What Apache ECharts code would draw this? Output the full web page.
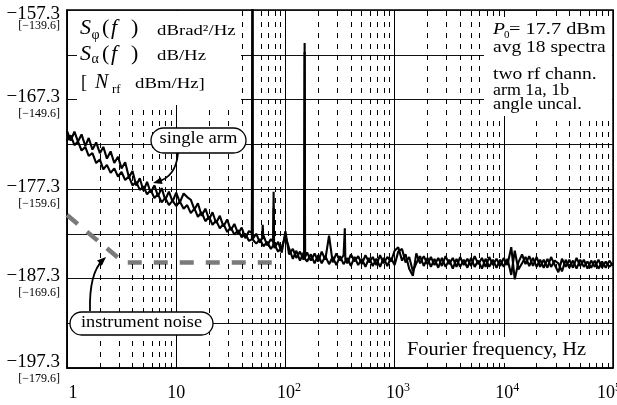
<!DOCTYPE html>
<html>
<head>
<meta charset="utf-8">
<script src="https://cdn.jsdelivr.net/npm/echarts@6/dist/echarts.min.js"></script>
<style>html,body{margin:0;padding:0;background:#fff}#c{width:617px;height:405px}</style>
</head>
<body>
<div id="c"></div>
<script>
// ---------- data ----------
const freqHz = [
  1, 1.08, 1.17, 1.26, 1.36, 1.47, 1.58, 1.71, 1.85, 2, 2.15, 2.32, 2.51, 2.71, 2.93, 3.16, 3.41, 3.69, 3.98, 4.3, 4.64, 5.01, 5.41, 5.84, 6.31, 6.81, 7.36, 7.94, 8.58, 9.26,
  10, 10.8, 11.7, 12.6, 13.6, 14.7, 15.8, 17.1, 18.5, 20, 21.5, 23.2, 25.1, 27.1, 29.3, 31.6, 34.1, 36.9, 39.8, 43, 46.4, 50.1, 54.1, 58.4, 63.1, 68.1, 73.6, 79.4, 85.8, 92.6,
  100, 108, 117, 126, 136, 147, 158, 171, 185, 200, 215, 232, 251, 271, 293, 316, 341, 369, 398, 430, 464, 501, 541, 584, 631, 681, 736, 794, 858, 926,
  1000, 1080, 1170, 1260, 1360, 1470, 1580, 1710, 1850, 2000, 2150, 2320, 2510, 2710, 2930, 3160, 3410, 3690, 3980, 4300, 4640, 5010, 5410, 5840, 6310, 6810, 7360, 7940, 8580, 9260,
  10000, 10800, 11700, 12600, 13600, 14700, 15800, 17100, 18500, 20000, 21500, 23200, 25100, 27100, 29300, 31600, 34100, 36900, 39800, 43000, 46400, 50100, 54100, 58400, 63100, 68100, 73600, 79400, 85800, 92600, 100000
];
// single arm, spectrum a (dB)
const armA = [
  -170.8, -171.9, -170.9, -172.0, -171.2, -172.5, -171.6, -172.9, -172.1, -173.3, -172.6, -173.9, -173.1, -174.4, -173.7, -175.0, -174.3, -176.0, -175.3, -176.9, -176.1, -177.5, -176.5, -177.7, -176.9, -178.1, -177.2, -178.5, -177.6, -178.7,
  -177.7, -178.8, -177.8, -178.2, -178.5, -179.6, -178.9, -180.3, -179.5, -180.7, -179.9, -181.1, -180.3, -181.5, -180.7, -181.9, -181.2, -182.3, -181.6, -182.8, -182.0, -182.9, -182.3, -183.3, -182.5, -183.6, -182.9, -183.9, -183.2, -184.4,
  -182.0, -184.6, -184.0, -185.0, -184.3, -185.2, -184.4, -185.3, -184.5, -185.4, -184.3, -185.2, -182.5, -185.5, -184.5, -185.3, -184.7, -185.6, -184.6, -185.4, -184.8, -185.7, -184.7, -185.5, -184.9, -185.8, -184.7, -185.6, -184.9, -185.4,
  -184.2, -183.8, -185.3, -184.6, -186.2, -187.0, -184.5, -185.6, -184.8, -185.7, -184.9, -185.8, -185.0, -185.9, -184.8, -185.7, -185.0, -186.0, -184.9, -185.8, -185.1, -185.9, -184.8, -185.7, -185.0, -186.0, -184.9, -185.8, -185.1, -185.9,
  -185.0, -185.8, -183.8, -187.4, -185.5, -184.6, -185.7, -184.8, -185.9, -184.9, -186.0, -185.2, -186.1, -184.9, -185.8, -186.6, -185.1, -186.0, -185.2, -186.1, -185.0, -185.9, -185.2, -186.2, -185.3, -186.0, -185.2, -186.1, -185.4, -186.0, -185.6
];
// single arm, spectrum b (dB)
const armB = [
  -171.9, -171.3, -172.4, -172.0, -173.0, -172.6, -173.6, -173.3, -174.4, -174.0, -175.1, -174.6, -175.5, -175.0, -175.9, -175.4, -176.3, -175.9, -176.9, -176.5, -177.4, -177.0, -177.9, -177.4, -178.3, -177.9, -178.8, -178.3, -179.1, -178.6,
  -179.2, -178.7, -179.5, -179.1, -180.0, -179.5, -180.4, -179.9, -180.9, -180.4, -181.3, -180.8, -181.7, -181.2, -182.1, -181.6, -182.4, -181.9, -182.7, -182.3, -183.1, -182.6, -183.4, -182.9, -183.7, -183.2, -184.0, -183.5, -184.3, -183.8,
  -182.6, -183.9, -185.1, -184.2, -185.3, -184.4, -185.4, -184.6, -185.6, -184.7, -185.6, -184.8, -185.7, -184.9, -185.8, -184.8, -185.7, -185.0, -185.9, -184.9, -185.8, -185.1, -186.0, -185.0, -185.9, -185.1, -186.0, -185.0, -185.9, -185.0,
  -185.8, -184.3, -184.0, -185.5, -184.9, -186.5, -185.6, -184.8, -185.9, -185.0, -186.0, -185.1, -186.1, -185.0, -186.0, -185.2, -186.2, -185.1, -186.0, -185.2, -186.1, -185.0, -186.0, -185.3, -186.2, -185.1, -186.0, -185.2, -186.1, -185.2,
  -186.0, -185.1, -186.9, -184.2, -186.3, -185.6, -184.9, -185.9, -185.0, -186.0, -185.2, -186.1, -185.1, -186.0, -185.3, -185.6, -186.5, -185.2, -186.1, -185.3, -186.2, -185.2, -186.0, -185.4, -186.1, -185.3, -186.2, -185.4, -186.1, -185.3, -185.9
];
// narrow spectral lines (Hz, dB)
const spikesA = [[49.3, -182.2], [50, -150], [50.7, -182.7], [61.2, -182.8], [62, -181.3], [62.8, -182.9],
  [77.2, -183.2], [78, -177.6], [78.8, -183.5], [148.5, -184.6], [150, -161.0], [151.5, -184.9],
  [346, -184.9], [350, -181.7], [354, -185.2]];
const spikesB = [[49.4, -182.9], [50, -152], [50.6, -183.0], [77.4, -183.6], [78, -179.4], [78.6, -183.8],
  [148.7, -185.0], [150, -162.0], [151.3, -185.1]];
// instrument noise floor
const noiseHz = [1, 3.3, 90];
const noiseDb = [-180.2, -185.5, -185.5];
// minor (dashed) frequency grid
const minorGridHz = [2, 3, 4, 5, 6, 7, 8, 9, 20, 30, 40, 50, 60, 70, 80, 90, 200, 300, 400, 500, 600, 700, 800, 900,
  2000, 3000, 4000, 5000, 6000, 7000, 8000, 9000, 20000, 30000, 40000, 50000, 60000, 70000, 80000, 90000];
// tick labels
const yTickMain = ['\u2212197.3', '\u2212187.3', '\u2212177.3', '\u2212167.3', '\u2212157.3'];
const yTickBracket = ['[\u2212179.6]', '[\u2212169.6]', '[\u2212159.6]', '[\u2212149.6]', '[\u2212139.6]'];
const xTickBase = ['1', '10', '10', '10', '10', '10'];
const xTickExp = ['', '', '2', '3', '4', '5'];

// ---------- chart ----------
const SERIF = '"Liberation Serif","Times New Roman","DejaVu Serif",serif';
const chart = echarts.init(document.getElementById('c'), null, { renderer: 'canvas', width: 617, height: 405 });

function merge(fs, vs, sp) {
  const p = fs.map((f, i) => [f, vs[i]]).concat(sp);
  p.sort((a, b) => a[0] - b[0]);
  return p;
}
function txt(s, x, base, size, opt) {
  opt = opt || {};
  const al = opt.align || 'left';
  return {
    type: 'text', x: x, y: base - 0.32 * size, z: 30, scaleX: opt.sx || 1, silent: true,
    style: {
      text: s, font: (opt.italic ? 'italic ' : '') + size + 'px ' + SERIF, fill: '#000',
      textAlign: al, textVerticalAlign: 'middle', align: al, verticalAlign: 'middle'
    }
  };
}
function box(x, y, w, h, r, stroke) {
  return {
    type: 'rect', z: 20, silent: true,
    shape: { x: x, y: y, width: w, height: h, r: r || 0 },
    style: { fill: '#fff', stroke: stroke ? '#000' : null, lineWidth: stroke ? 1.3 : 0 }
  };
}
function arrow(x1, y1, cx, cy, x2, y2) {
  const dx = x2 - cx, dy = y2 - cy, L = Math.hypot(dx, dy), ux = dx / L, uy = dy / L;
  const len = 9, hw = 3.5;
  return [
    { type: 'bezierCurve', z: 25, silent: true, shape: { x1: x1, y1: y1, cpx1: cx, cpy1: cy, x2: x2 - ux * 4, y2: y2 - uy * 4 },
      style: { stroke: '#000', lineWidth: 1.8, fill: null } },
    { type: 'polygon', z: 25, silent: true,
      shape: { points: [[x2, y2], [x2 - ux * len - uy * hw, y2 - uy * len + ux * hw], [x2 - ux * len + uy * hw, y2 - uy * len - ux * hw]] },
      style: { fill: '#000' } }
  ];
}

const option = {
  animation: false,
  backgroundColor: '#fff',
  grid: { left: 67, right: 4, top: 10, bottom: 37, show: true, borderColor: '#000', borderWidth: 1.5,
    backgroundColor: 'transparent', outerBoundsMode: 'none', containLabel: false },
  xAxis: {
    type: 'log', logBase: 10, min: 1, max: 100000, splitNumber: 5,
    axisLine: { show: true, onZero: false, lineStyle: { color: '#000', width: 1.5 } },
    axisTick: { show: false },
    splitLine: { show: true, lineStyle: { color: '#000', width: 1 } },
    axisLabel: {
      margin: 14, color: '#000', fontFamily: SERIF, fontSize: 18, hideOverlap: false,
      formatter: function (v) {
        const i = Math.round(Math.log10(v));
        if (i === 0) return '{one|' + xTickBase[0] + '}';
        if (!xTickExp[i]) return '{b|' + xTickBase[i] + '}';
        if (i === 5) return '{b|' + xTickBase[i] + '}{sr|' + xTickExp[i] + '}';
        return '{bp|' + xTickBase[i] + '}{s|' + xTickExp[i] + '}';
      },
      rich: {
        b: { fontFamily: SERIF, fontSize: 18, lineHeight: 22, color: '#000', verticalAlign: 'middle' },
        one: { fontFamily: SERIF, fontSize: 18, lineHeight: 22, color: '#000', padding: [0, 0, 0, 12], verticalAlign: 'middle' },
        bp: { fontFamily: SERIF, fontSize: 18, lineHeight: 22, color: '#000', padding: [0, 0, 0, 7], verticalAlign: 'middle' },
        s: { fontFamily: SERIF, fontSize: 12, lineHeight: 12, color: '#000', verticalAlign: 'top' },
        sr: { fontFamily: SERIF, fontSize: 12, lineHeight: 12, color: '#000', verticalAlign: 'top', padding: [0, 8, 0, 0] }
      }
    }
  },
  yAxis: {
    type: 'value', min: -197.3, max: -157.3, interval: 5,
    axisLine: { show: true, onZero: false, lineStyle: { color: '#000', width: 1.5 } },
    axisTick: { show: false },
    splitLine: { show: true, lineStyle: { color: '#111', width: 1 } },
    axisLabel: {
      margin: 7, color: '#000', fontFamily: SERIF, hideOverlap: false,
      formatter: function (v) {
        const k = Math.round((v + 197.3) / 5);
        if (k % 2) return '';
        const j = k / 2;
        if (j === 4) return '{spT| }\n{m|' + yTickMain[j] + '}\n{brT|' + yTickBracket[j] + '}';
        if (j === 0) return '{spB| }\n{m|' + yTickMain[j] + '}\n{br|' + yTickBracket[j] + '}';
        return '{sp| }\n{m|' + yTickMain[j] + '}\n{br|' + yTickBracket[j] + '}';
      },
      rich: {
        sp: { fontSize: 8, lineHeight: 10 },
        spT: { fontSize: 8, lineHeight: 12 },
        spB: { fontSize: 2, lineHeight: 2 },
        m: { fontFamily: SERIF, fontSize: 19, lineHeight: 19, color: '#000' },
        br: { fontFamily: SERIF, fontSize: 12, lineHeight: 14, color: '#000' },
        brT: { fontFamily: SERIF, fontSize: 12, lineHeight: 4, color: '#000' }
      }
    }
  },
  series: [
    {
      name: 'grid', type: 'line', data: [], z: 1, silent: true,
      markLine: {
        silent: true, symbol: ['none', 'none'], label: { show: false },
        lineStyle: { color: '#000', width: 1, type: [5, 6] },
        emphasis: { disabled: true },
        data: minorGridHz.map(f => ({ xAxis: f }))
      }
    },
    {
      name: 'instrument noise', type: 'line', z: 2, showSymbol: false, silent: true,
      data: noiseHz.map((f, i) => [f, noiseDb[i]]),
      lineStyle: { color: '#7a7a7a', width: 4.5, type: [14, 12], cap: 'butt' }
    },
    {
      name: 'arm a', type: 'line', z: 3, showSymbol: false, silent: true, clip: true,
      data: merge(freqHz, armA, spikesA),
      lineStyle: { color: '#000', width: 2.1 }
    },
    {
      name: 'arm b', type: 'line', z: 3, showSymbol: false, silent: true, clip: true,
      data: merge(freqHz, armB, spikesB),
      lineStyle: { color: '#000', width: 2.1 }
    }
  ],
  graphic: {
    elements: [
      box(77, 11, 164, 94),
      box(484, 17, 128, 99),
      box(396, 337, 216, 26),
      box(151, 128, 95, 25, 12.5, true),
      box(70, 312, 143, 23, 11.5, true),
      ...arrow(178, 153, 176, 177, 153, 183),
      ...arrow(90, 311, 89, 273, 106, 257),
      // top-left legend
      txt('S', 80, 35.5, 22, { italic: true }),
      txt('\u03c6', 91.5, 39.5, 14),
      txt('(', 102, 35.5, 22),
      txt('f', 111, 35.5, 22, { italic: true }),
      txt(')', 131, 35.5, 22),
      txt('dBrad\u00b2/Hz', 157, 36, 15, { sx: 1.25 }),
      txt('S', 80, 61, 22, { italic: true }),
      txt('\u03b1', 91.5, 64, 14),
      txt('(', 102, 61, 22),
      txt('f', 111, 61, 22, { italic: true }),
      txt(')', 131, 61, 22),
      txt('dB/Hz', 157, 61, 15, { sx: 1.25 }),
      txt('[', 81, 89, 18),
      txt('N', 95, 89, 20, { italic: true }),
      txt('rf', 112, 94, 13),
      txt('dBm/Hz]', 135, 89, 15, { sx: 1.25 }),
      // top-right notes
      txt('P', 493, 35, 17, { italic: true, sx: 1.15 }),
      txt('0', 504, 39, 11),
      txt('= 17.7 dBm', 509, 35, 16, { sx: 1.27 }),
      txt('avg 18 spectra', 493, 53, 16, { sx: 1.22 }),
      txt('two rf chann.', 493, 80, 16, { sx: 1.22 }),
      txt('arm 1a, 1b', 493, 96, 16, { sx: 1.12 }),
      txt('angle uncal.', 493, 110, 16, { sx: 1.15 }),
      // bubbles and axis title
      txt('single arm', 198.5, 143.5, 16, { align: 'center', sx: 1.16 }),
      txt('instrument noise', 141.5, 327.5, 16, { align: 'center', sx: 1.14 }),
      txt('Fourier frequency, Hz', 407, 356.5, 18.5, { sx: 1.1 })
    ]
  }
};
chart.setOption(option);
</script>
</body>
</html>
